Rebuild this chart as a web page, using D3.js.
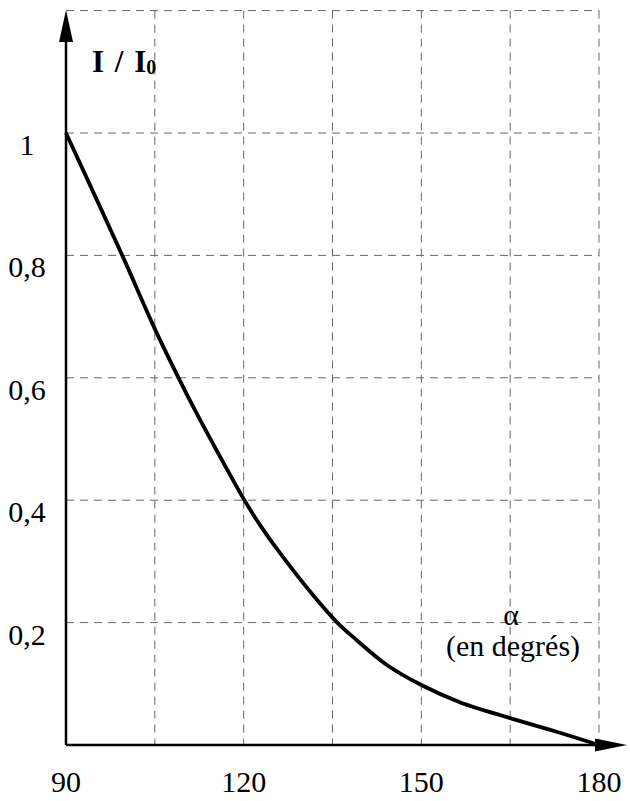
<!DOCTYPE html>
<html>
<head>
<meta charset="utf-8">
<script src="https://cdn.jsdelivr.net/npm/d3@7"></script>
<style>
  body { margin: 0; background: #fff; }
  svg text { font-family: 'Liberation Serif', 'Times New Roman', Tinos, 'DejaVu Serif', serif; }
</style>
</head>
<body>
<div id="chart"></div>
<script>
// values
const alpha = [90, 99.5, 105, 109, 112, 115, 117.5, 120, 123, 126.5, 131.7, 135.8, 139, 144, 150, 156.5, 165, 173.4, 180];
const ratio = [1, 0.8, 0.68, 0.6, 0.543, 0.489, 0.445, 0.402, 0.356, 0.309, 0.245, 0.2, 0.172, 0.132, 0.098, 0.07, 0.044, 0.02, 0];

const xGrid = [90, 105, 120, 135, 150, 165, 180];
const xLabels = [90, 120, 150, 180];
const yGrid = [0, 0.2, 0.4, 0.6, 0.8, 1, 1.2];
const yLabels = [0.2, 0.4, 0.6, 0.8, 1];

const width = 630;
const height = 801;

const svg = d3.select('#chart')
  .append('svg')
  .attr('width', width)
  .attr('height', height);

const x = d3.scaleLinear().domain([90, 180]).range([66, 599]);
const y = d3.scaleLinear().domain([0, 1.2]).range([745, 10.6]);

// dashed grid
svg.append('g')
  .selectAll('line')
  .data(xGrid.slice(1))
  .enter()
  .append('line')
  .attr('x1', d => x(d))
  .attr('x2', d => x(d))
  .attr('y1', y(1.2))
  .attr('y2', y(0))
  .attr('stroke', '#666')
  .attr('stroke-width', 1)
  .attr('stroke-dasharray', '8,6');

svg.append('g')
  .selectAll('line')
  .data(yGrid.slice(1))
  .enter()
  .append('line')
  .attr('x1', x(90))
  .attr('x2', x(180))
  .attr('y1', d => y(d))
  .attr('y2', d => y(d))
  .attr('stroke', '#666')
  .attr('stroke-width', 1)
  .attr('stroke-dasharray', '8,6');

// axes with arrows
svg.append('line')
  .attr('x1', x(90)).attr('x2', x(90))
  .attr('y1', y(0)).attr('y2', 30)
  .attr('stroke', '#000').attr('stroke-width', 2.5);

svg.append('path')
  .attr('d', `M${x(90)},10 L${x(90) - 7},42 L${x(90) + 7},42 Z`)
  .attr('fill', '#000');

svg.append('line')
  .attr('x1', x(90)).attr('x2', 610)
  .attr('y1', y(0)).attr('y2', y(0))
  .attr('stroke', '#000').attr('stroke-width', 2.5);

svg.append('path')
  .attr('d', `M627,${y(0)} L595,${y(0) - 6.5} L595,${y(0) + 6.5} Z`)
  .attr('fill', '#000');

// tick labels
svg.append('g')
  .selectAll('text')
  .data(xLabels)
  .enter()
  .append('text')
  .attr('x', d => x(d))
  .attr('y', 792)
  .attr('text-anchor', 'middle')
  .attr('font-size', 30)
  .text(d => d);

svg.append('g')
  .selectAll('text')
  .data(yLabels)
  .enter()
  .append('text')
  .attr('x', 27)
  .attr('y', d => y(d) + 22)
  .attr('text-anchor', 'middle')
  .attr('font-size', 30)
  .text(d => d === 1 ? '1' : String(d).replace('.', ','));

// curve
const line = d3.line()
  .x(d => x(d[0]))
  .y(d => y(d[1]))
  .curve(d3.curveCatmullRom.alpha(0.5));

svg.append('path')
  .datum(alpha.map((a, i) => [a, ratio[i]]))
  .attr('d', line)
  .attr('fill', 'none')
  .attr('stroke', '#000')
  .attr('stroke-width', 3.8)
  .attr('stroke-linejoin', 'round');

// axis titles
const yTitle = svg.append('text')
  .attr('x', 92)
  .attr('y', 72)
  .attr('font-size', 31)
  .attr('font-weight', 'bold')
  .attr('word-spacing', 3);
yTitle.append('tspan').text('I / I');
yTitle.append('tspan').attr('font-size', 20).attr('dy', 2).text('0');

svg.append('text')
  .attr('x', 511)
  .attr('y', 625)
  .attr('text-anchor', 'middle')
  .attr('font-size', 30)
  .text('α');

svg.append('text')
  .attr('x', 513)
  .attr('y', 656)
  .attr('text-anchor', 'middle')
  .attr('font-size', 30)
  .text('(en degrés)');
</script>
</body>
</html>
